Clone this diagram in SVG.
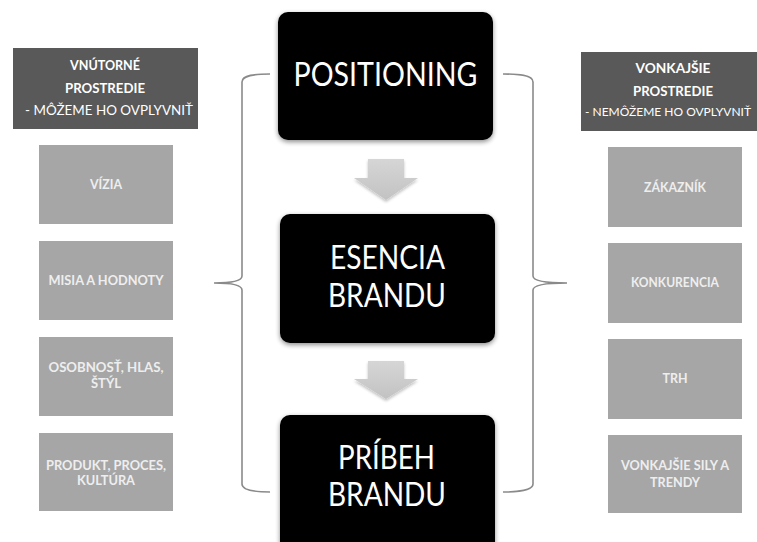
<svg xmlns="http://www.w3.org/2000/svg" width="757" height="542" viewBox="0 0 757 542">
<style>
.big{font-family:Lato,"Open Sans","Liberation Sans",sans-serif;font-size:32px;fill:#ffffff;text-anchor:middle}
.hd{font-family:Lato,"Open Sans","Liberation Sans",sans-serif;font-size:13px;fill:#ffffff;text-anchor:middle}
.hb{font-weight:bold}
.gt{font-family:Lato,"Open Sans","Liberation Sans",sans-serif;font-size:12.5px;font-weight:bold;fill:#eeeeee;text-anchor:middle}
.blk{fill:#000000;filter:url(#sh)}
.gb{fill:#a6a6a6}
.hdr{fill:#595959}
.br{fill:none;stroke:#8a8a8a;stroke-width:1.6}
.ar{fill:url(#ag);filter:url(#sh2)}
</style>
<defs>
<filter id="sh" x="-10%" y="-10%" width="125%" height="130%">
<feGaussianBlur in="SourceAlpha" stdDeviation="2.5"/>
<feOffset dx="0" dy="2" result="b"/>
<feComponentTransfer><feFuncA type="linear" slope="0.45"/></feComponentTransfer>
<feMerge><feMergeNode/><feMergeNode in="SourceGraphic"/></feMerge>
</filter>
<filter id="sh2" x="-20%" y="-20%" width="140%" height="150%">
<feGaussianBlur in="SourceAlpha" stdDeviation="1.5"/>
<feOffset dx="0" dy="1.5"/>
<feComponentTransfer><feFuncA type="linear" slope="0.25"/></feComponentTransfer>
<feMerge><feMergeNode/><feMergeNode in="SourceGraphic"/></feMerge>
</filter>
<linearGradient id="ag" x1="0" y1="0" x2="0" y2="1">
<stop offset="0" stop-color="#d6d6d6"/>
<stop offset="1" stop-color="#c2c2c2"/>
</linearGradient>
</defs>
<rect width="757" height="542" fill="#ffffff"/>

<g id="connectors">
<path class="br" d="M270,74 C255,74 242,75 242,82 L242,276 C242,281 232,283 214,283 C232,283 242,285 242,290 L242,484 C242,490 255,492 270,492"/>
<path class="br" d="M503,74 C518,74 533,75 533,82 L533,276 C533,281 545,283 567,283 C545,283 533,285 533,290 L533,484 C533,490 518,492 503,492"/>
<path class="ar" d="M368,159 L404,159 L404,178 L418,178 L386,200 L354,178 L368,178 Z"/>
<path class="ar" d="M368,361 L404,361 L404,379 L418,379 L386,399 L354,379 L368,379 Z"/>
</g>

<g id="positioning">
<rect class="blk" x="278" y="12" width="215" height="128" rx="10"/>
<text class="big" x="385.5" y="86" textLength="184" lengthAdjust="spacingAndGlyphs">POSITIONING</text>
</g>
<g id="esencia">
<rect class="blk" x="280" y="214" width="215" height="129" rx="10"/>
<text class="big" x="387.5" y="269" textLength="115" lengthAdjust="spacingAndGlyphs">ESENCIA</text>
<text class="big" x="387" y="307" textLength="118" lengthAdjust="spacingAndGlyphs">BRANDU</text>
</g>
<g id="pribeh">
<rect class="blk" x="280" y="415" width="215" height="140" rx="10"/>
<text class="big" x="386.5" y="469" textLength="97" lengthAdjust="spacingAndGlyphs">PRÍBEH</text>
<text class="big" x="387" y="506" textLength="118" lengthAdjust="spacingAndGlyphs">BRANDU</text>
</g>

<g id="vnutorne">
<rect class="hdr" x="13" y="48" width="185" height="81"/>
<text class="hd hb" x="105" y="70" textLength="70" lengthAdjust="spacingAndGlyphs">VNÚTORNÉ</text>
<text class="hd hb" x="105" y="93" textLength="80" lengthAdjust="spacingAndGlyphs">PROSTREDIE</text>
<text class="hd" x="109" y="115" textLength="168" lengthAdjust="spacingAndGlyphs">- MÔŽEME HO OVPLYVNIŤ</text>
</g>
<g id="vonkajsie">
<rect class="hdr" x="581" y="52" width="176" height="79"/>
<text class="hd hb" x="673" y="73" textLength="75" lengthAdjust="spacingAndGlyphs">VONKAJŠIE</text>
<text class="hd hb" x="673" y="96" textLength="80" lengthAdjust="spacingAndGlyphs">PROSTREDIE</text>
<text class="hd" x="668" y="116" style="font-size:11.5px" textLength="166" lengthAdjust="spacingAndGlyphs">- NEMÔŽEME HO OVPLYVNIŤ</text>
</g>

<g id="vizia">
<rect class="gb" x="39" y="145" width="134" height="79"/>
<text class="gt" x="106" y="189" textLength="32" lengthAdjust="spacingAndGlyphs">VÍZIA</text>
</g>
<g id="misia">
<rect class="gb" x="39" y="241" width="134" height="79"/>
<text class="gt" x="106" y="285" textLength="115" lengthAdjust="spacingAndGlyphs">MISIA A HODNOTY</text>
</g>
<g id="osobnost">
<rect class="gb" x="39" y="337" width="134" height="79"/>
<text class="gt" x="106" y="372" textLength="115" lengthAdjust="spacingAndGlyphs">OSOBNOSŤ, HLAS,</text>
<text class="gt" x="106" y="388" textLength="30" lengthAdjust="spacingAndGlyphs">ŠTÝL</text>
</g>
<g id="produkt">
<rect class="gb" x="39" y="433" width="134" height="78"/>
<text class="gt" x="106" y="470" textLength="120" lengthAdjust="spacingAndGlyphs">PRODUKT, PROCES,</text>
<text class="gt" x="106" y="485" textLength="58" lengthAdjust="spacingAndGlyphs">KULTÚRA</text>
</g>

<g id="zakaznik">
<rect class="gb" x="608" y="147" width="134" height="80"/>
<text class="gt" x="675" y="192" textLength="62" lengthAdjust="spacingAndGlyphs">ZÁKAZNÍK</text>
</g>
<g id="konkurencia">
<rect class="gb" x="608" y="243" width="134" height="80"/>
<text class="gt" x="675" y="287" textLength="88" lengthAdjust="spacingAndGlyphs">KONKURENCIA</text>
</g>
<g id="trh">
<rect class="gb" x="608" y="339" width="134" height="80"/>
<text class="gt" x="675" y="383" textLength="25" lengthAdjust="spacingAndGlyphs">TRH</text>
</g>
<g id="sily">
<rect class="gb" x="608" y="435" width="134" height="78"/>
<text class="gt" x="675" y="470" textLength="108" lengthAdjust="spacingAndGlyphs">VONKAJŠIE SILY A</text>
<text class="gt" x="675" y="487" textLength="50" lengthAdjust="spacingAndGlyphs">TRENDY</text>
</g>
</svg>
